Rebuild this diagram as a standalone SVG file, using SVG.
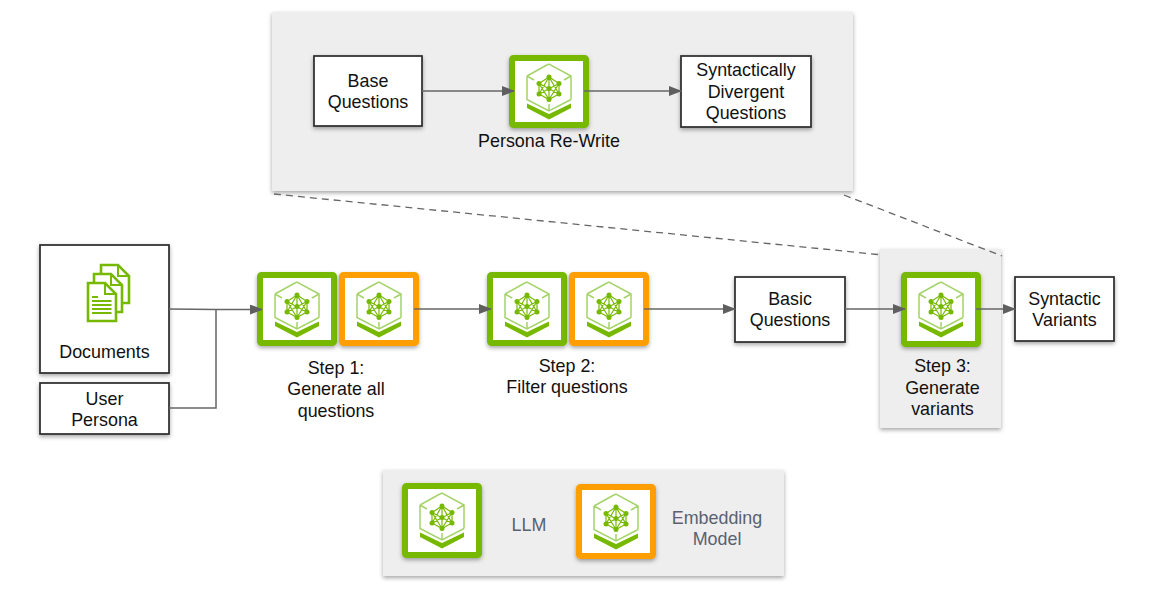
<svg xmlns="http://www.w3.org/2000/svg" width="1150" height="608" viewBox="0 0 1150 608">
<style>
text{font-family:"Liberation Sans",Arial,sans-serif;font-size:17.9px;fill:#111;text-anchor:middle}
.muted{fill:#5a6170}
.panel{fill:#eeeeee;filter:url(#sh)}
.box{fill:#fff;stroke:#2b2b2b;stroke-width:1.7;filter:url(#sh)}
.g{fill:#fff;stroke:#76b900;stroke-width:6;filter:url(#sh)}
.o{fill:#fff;stroke:#ff9e00;stroke-width:6;filter:url(#sh)}
.c{fill:none;stroke:#666;stroke-width:1.5}
.a{marker-end:url(#arr)}
.d{fill:none;stroke:#666;stroke-width:1.3;stroke-dasharray:7 5}
</style>
<defs>
<filter id="sh" x="-10%" y="-10%" width="120%" height="125%"><feDropShadow dx="0" dy="2" stdDeviation="2" flood-color="#000" flood-opacity=".35"/></filter>
<marker id="arr" markerUnits="userSpaceOnUse" markerWidth="13" markerHeight="10" refX="12" refY="5" orient="auto"><path d="M0 0L13 5L0 10Z" fill="#5f5f5f"/></marker>
<g id="chip">
<path d="M-3-25.500L0-27L22-15V8.500M22-15L15-11M-22-15L-3-25.500M-22-15V8.500L0 20L22 8.500M-22-15L-15-11M0 20V13" fill="none" stroke="#a5d36a" stroke-width="1.5"/>
<path d="M-22 12.500L0 23L22 12.500V17L0 28.500L-22 17Z" fill="#76b900"/>
<g stroke="#76b900" stroke-width="1.2" fill="none"><path d="M0-14L-10-7.500V3L0 8.500L10 3V-7.500ZM0-14V8.500M-10-7.500L10 3M10-7.500L-10 3M0-14L-10 3M0-14L10 3M0 8.500L-10-7.500M0 8.500L10-7.500"/></g>
<g fill="#76b900"><circle cx="0" cy="-14" r="2.500"/><circle cx="-10" cy="-7.500" r="2.500"/><circle cx="10" cy="-7.500" r="2.500"/><circle cx="-10" cy="3" r="2.500"/><circle cx="10" cy="3" r="2.500"/><circle cx="0" cy="8.500" r="2.500"/><circle cx="0" cy="-2.500" r="2.500"/></g>
</g>
<g id="page"><path d="M-14-19H3L14-8V19H-14Z" fill="#fff" stroke="#76b900" stroke-width="2.600"/><path d="M3-19V-8H14" fill="none" stroke="#76b900" stroke-width="2"/></g>
</defs>

<g id="panels">
<rect class="panel" x="272" y="12" width="581" height="179"/>
<rect class="panel" x="880" y="249" width="121" height="179"/>
<rect class="panel" x="383" y="470" width="401" height="106"/>
</g>

<g id="base-questions"><rect class="box" x="314" y="56" width="108" height="70"/><text x="368" y="87">Base</text><text x="368" y="108">Questions</text></g>
<g id="persona-rewrite"><rect class="g" x="512" y="58" width="74" height="67" rx="1.500"/><use href="#chip" x="549" y="91"/><text x="549" y="147">Persona Re-Write</text></g>
<g id="divergent"><rect class="box" x="681" y="56" width="130" height="71"/><text x="746" y="76">Syntactically</text><text x="746" y="98">Divergent</text><text x="746" y="119">Questions</text></g>

<g id="documents"><rect class="box" x="40" y="245" width="129" height="128"/>
<use href="#page" x="115" y="284"/><use href="#page" x="108" y="293"/><use href="#page" x="102" y="302"/>
<path d="M92 297H98M92 301H111.500M92 305H111.500M92 309H111.500M92 313H111.500" stroke="#76b900" stroke-width="1.800" fill="none"/>
<text x="104.500" y="358">Documents</text></g>
<g id="user-persona"><rect class="box" x="40" y="383" width="129" height="51"/><text x="104.500" y="405">User</text><text x="104.500" y="426">Persona</text></g>

<g id="step1"><rect class="g" x="260" y="275" width="74" height="68" rx="1.500"/><use href="#chip" x="297" y="309"/><rect class="o" x="342" y="275" width="74" height="68" rx="1.500"/><use href="#chip" x="379" y="309"/>
<text x="336" y="374">Step 1:</text><text x="336" y="395">Generate all</text><text x="336" y="417">questions</text></g>
<g id="step2"><rect class="g" x="490" y="275" width="74" height="68" rx="1.500"/><use href="#chip" x="527" y="309"/><rect class="o" x="572" y="275" width="74" height="68" rx="1.500"/><use href="#chip" x="609" y="309"/>
<text x="567" y="372">Step 2:</text><text x="567" y="393">Filter questions</text></g>
<g id="basic-questions"><rect class="box" x="735" y="277" width="110" height="65"/><text x="790" y="305">Basic</text><text x="790" y="326">Questions</text></g>
<g id="step3"><rect class="g" x="904" y="275" width="74" height="69" rx="1.500"/><use href="#chip" x="941" y="309"/>
<text x="942.500" y="372">Step 3:</text><text x="942.500" y="394">Generate</text><text x="942.500" y="415">variants</text></g>
<g id="syntactic-variants"><rect class="box" x="1015" y="277" width="99" height="64"/><text x="1064.500" y="305">Syntactic</text><text x="1064.500" y="326">Variants</text></g>

<g id="legend-llm"><rect class="g" x="405" y="486" width="74" height="69" rx="1.500"/><use href="#chip" x="442" y="520"/><text class="muted" x="529" y="531">LLM</text></g>
<g id="legend-embedding"><rect class="o" x="579" y="487" width="74" height="69" rx="1.500"/><use href="#chip" x="616" y="521"/><text class="muted" x="717" y="524">Embedding</text><text class="muted" x="717" y="545">Model</text></g>

<g id="connectors">
<path class="d" d="M274 194L878 254.500"/>
<path class="d" d="M844 195L1002 256"/>
<path class="c a" d="M422 91H514"/>
<path class="c a" d="M584 91H681"/>
<path class="c a" d="M169 309L216 309.500H262"/>
<path class="c" d="M169 408H216V309"/>
<path class="c a" d="M414 309H491"/>
<path class="c a" d="M644 309H735"/>
<path class="c a" d="M845 309H905"/>
<path class="c a" d="M976 309H1015"/>
</g>
</svg>
